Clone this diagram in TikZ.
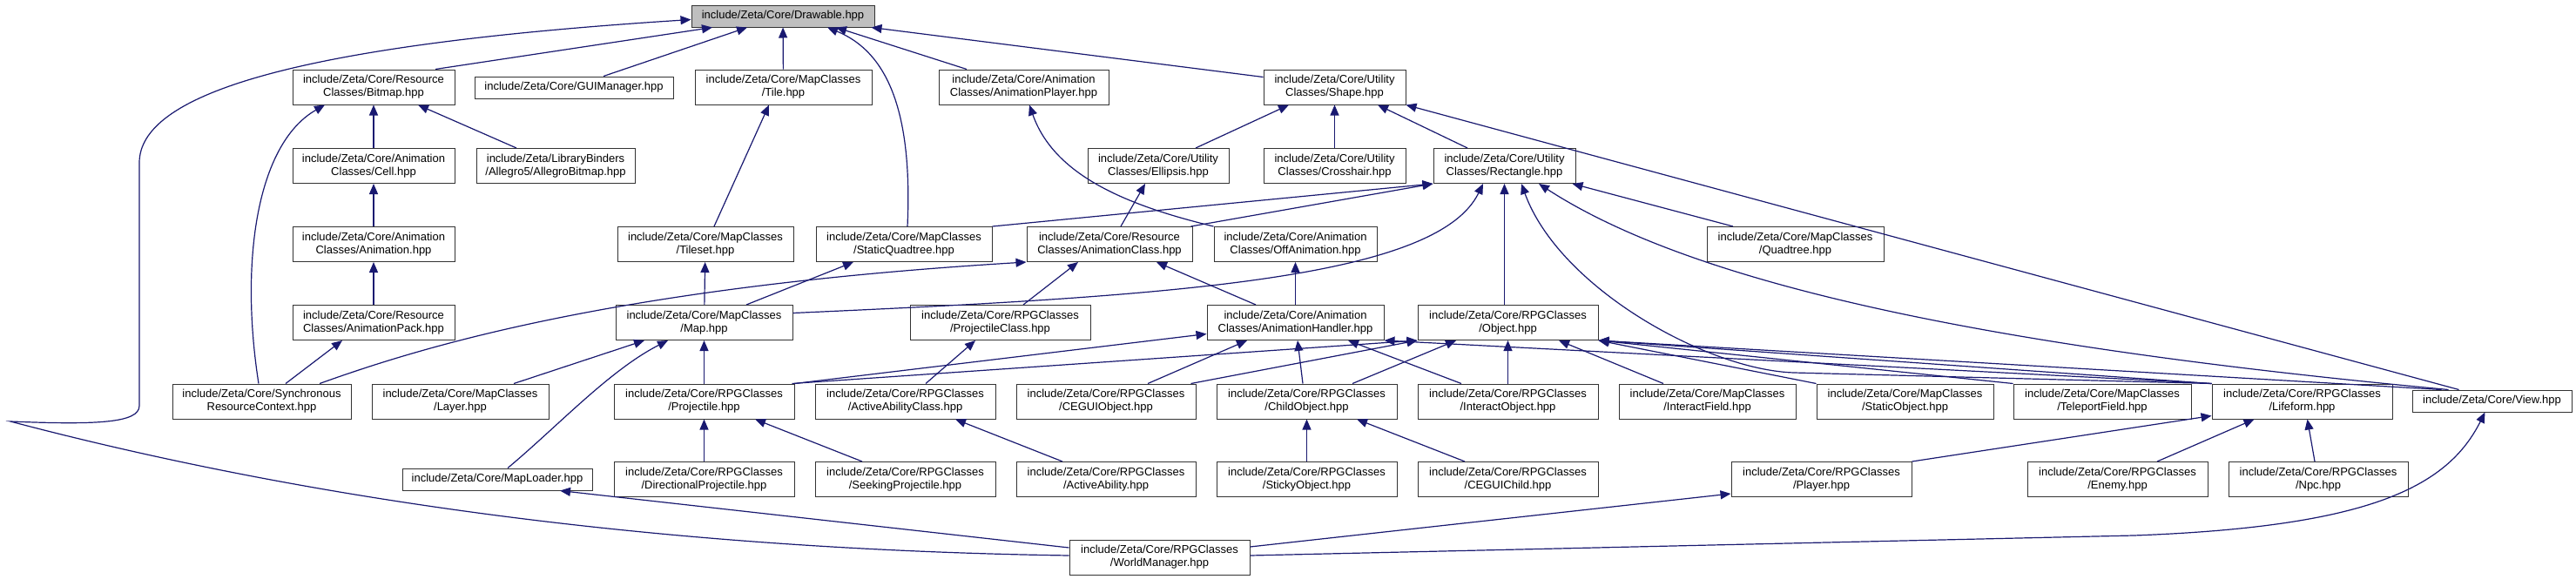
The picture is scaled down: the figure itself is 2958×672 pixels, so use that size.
\documentclass[tikz,border=0pt]{standalone}
\usepackage{fontspec}
\setmainfont{Liberation Sans}
\usepackage{tikz}
\usetikzlibrary{arrows.meta}
\definecolor{edgenavy}{RGB}{25,25,112}
\definecolor{rootgray}{RGB}{191,191,191}
\definecolor{boxgray}{RGB}{51,51,51}

\begin{document}
\begin{tikzpicture}[
    x=1pt, y=-1pt,
    filebox/.style={draw=boxgray, line width=1pt, fill=white, minimum height=40pt, inner sep=2pt, align=center, font=\fontsize{13}{15}\selectfont},
    dep/.style={->, draw=edgenavy, line width=1.2pt},
    >={Triangle[length=12pt, width=10pt]}
]
\path[use as bounding box, fill=white] (0,0) rectangle (2958,672);

\node[filebox, fill=rootgray, minimum width=210pt, minimum height=25pt] (drawable) at (899,18.5) {include/Zeta/Core/Drawable.hpp};

\node[filebox, minimum width=186pt] (bitmap) at (429,100) {include/Zeta/Core/Resource\\Classes/Bitmap.hpp};
\node[filebox, minimum width=228pt, minimum height=25pt] (guimanager) at (659,100.5) {include/Zeta/Core/GUIManager.hpp};
\node[filebox, minimum width=203pt] (tile) at (899.5,100) {include/Zeta/Core/MapClasses\\/Tile.hpp};
\node[filebox, minimum width=195pt] (animplayer) at (1175.5,100) {include/Zeta/Core/Animation\\Classes/AnimationPlayer.hpp};
\node[filebox, minimum width=163pt] (shape) at (1532.5,100) {include/Zeta/Core/Utility\\Classes/Shape.hpp};

\node[filebox, minimum width=186pt] (cell) at (429,190.5) {include/Zeta/Core/Animation\\Classes/Cell.hpp};
\node[filebox, minimum width=182pt] (allegro) at (638,190.5) {include/Zeta/LibraryBinders\\/Allegro5/AllegroBitmap.hpp};
\node[filebox, minimum width=162pt] (ellipsis) at (1330,190.5) {include/Zeta/Core/Utility\\Classes/Ellipsis.hpp};
\node[filebox, minimum width=163pt] (crosshair) at (1532.5,190.5) {include/Zeta/Core/Utility\\Classes/Crosshair.hpp};
\node[filebox, minimum width=163pt] (rectangle) at (1727.5,190.5) {include/Zeta/Core/Utility\\Classes/Rectangle.hpp};

\node[filebox, minimum width=186pt] (animation) at (429,280.5) {include/Zeta/Core/Animation\\Classes/Animation.hpp};
\node[filebox, minimum width=202pt] (tileset) at (810,280.5) {include/Zeta/Core/MapClasses\\/Tileset.hpp};
\node[filebox, minimum width=202pt] (staticquad) at (1038,280.5) {include/Zeta/Core/MapClasses\\/StaticQuadtree.hpp};
\node[filebox, minimum width=190pt] (animclass) at (1274,280.5) {include/Zeta/Core/Resource\\Classes/AnimationClass.hpp};
\node[filebox, minimum width=187pt] (offanim) at (1487.5,280.5) {include/Zeta/Core/Animation\\Classes/OffAnimation.hpp};
\node[filebox, minimum width=203pt] (quadtree) at (2061.5,280.5) {include/Zeta/Core/MapClasses\\/Quadtree.hpp};

\node[filebox, minimum width=186pt] (animpack) at (429,370.5) {include/Zeta/Core/Resource\\Classes/AnimationPack.hpp};
\node[filebox, minimum width=203pt] (map) at (808.5,370.5) {include/Zeta/Core/MapClasses\\/Map.hpp};
\node[filebox, minimum width=207pt] (projclass) at (1148.5,370.5) {include/Zeta/Core/RPGClasses\\/ProjectileClass.hpp};
\node[filebox, minimum width=203pt] (animhandler) at (1487.5,370.5) {include/Zeta/Core/Animation\\Classes/AnimationHandler.hpp};
\node[filebox, minimum width=207pt] (object) at (1731.5,370.5) {include/Zeta/Core/RPGClasses\\/Object.hpp};

\node[filebox, minimum width=205pt] (sync) at (300.5,461) {include/Zeta/Core/Synchronous\\ResourceContext.hpp};
\node[filebox, minimum width=203pt] (layer) at (528.5,461) {include/Zeta/Core/MapClasses\\/Layer.hpp};
\node[filebox, minimum width=207pt] (projectile) at (808.5,461) {include/Zeta/Core/RPGClasses\\/Projectile.hpp};
\node[filebox, minimum width=207pt] (abilityclass) at (1039.5,461) {include/Zeta/Core/RPGClasses\\/ActiveAbilityClass.hpp};
\node[filebox, minimum width=206pt] (ceguiobject) at (1270,461) {include/Zeta/Core/RPGClasses\\/CEGUIObject.hpp};
\node[filebox, minimum width=207pt] (childobject) at (1500.5,461) {include/Zeta/Core/RPGClasses\\/ChildObject.hpp};
\node[filebox, minimum width=207pt] (interactobject) at (1731.5,461) {include/Zeta/Core/RPGClasses\\/InteractObject.hpp};
\node[filebox, minimum width=203pt] (interactfield) at (1960.5,461) {include/Zeta/Core/MapClasses\\/InteractField.hpp};
\node[filebox, minimum width=203pt] (staticobject) at (2187.5,461) {include/Zeta/Core/MapClasses\\/StaticObject.hpp};
\node[filebox, minimum width=204pt] (teleportfield) at (2414,461) {include/Zeta/Core/MapClasses\\/TeleportField.hpp};
\node[filebox, minimum width=207pt] (lifeform) at (2643.5,461) {include/Zeta/Core/RPGClasses\\/Lifeform.hpp};
\node[filebox, minimum width=183pt, minimum height=25pt] (view) at (2861.5,460.5) {include/Zeta/Core/View.hpp};

\node[filebox, minimum width=218pt, minimum height=25pt] (maploader) at (571,550.5) {include/Zeta/Core/MapLoader.hpp};
\node[filebox, minimum width=207pt] (directional) at (808.5,550.5) {include/Zeta/Core/RPGClasses\\/DirectionalProjectile.hpp};
\node[filebox, minimum width=207pt] (seeking) at (1039.5,550.5) {include/Zeta/Core/RPGClasses\\/SeekingProjectile.hpp};
\node[filebox, minimum width=206pt] (ability) at (1270,550.5) {include/Zeta/Core/RPGClasses\\/ActiveAbility.hpp};
\node[filebox, minimum width=207pt] (sticky) at (1500.5,550.5) {include/Zeta/Core/RPGClasses\\/StickyObject.hpp};
\node[filebox, minimum width=207pt] (ceguichild) at (1731.5,550.5) {include/Zeta/Core/RPGClasses\\/CEGUIChild.hpp};
\node[filebox, minimum width=207pt] (player) at (2091.5,550.5) {include/Zeta/Core/RPGClasses\\/Player.hpp};
\node[filebox, minimum width=207pt] (enemy) at (2431.5,550.5) {include/Zeta/Core/RPGClasses\\/Enemy.hpp};
\node[filebox, minimum width=206pt] (npc) at (2662,550.5) {include/Zeta/Core/RPGClasses\\/Npc.hpp};

\node[filebox, minimum width=207pt] (worldmanager) at (1331.5,640) {include/Zeta/Core/RPGClasses\\/WorldManager.hpp};

% into Drawable
\draw[dep] ([yshift=2pt]worldmanager.west) .. controls (700,630) and (300,560) .. (12,484) .. controls (110,488) and (160,486) .. (160,466) -- (160,187) .. controls (160,110) and (330,52) .. ([yshift=-4pt]drawable.west);
\draw[dep] ([xshift=71pt]bitmap.north) -- ([xshift=-81pt]drawable.south);
\draw[dep] ([xshift=34pt]guimanager.north) -- ([xshift=-41pt]drawable.south);
\draw[dep] (tile) -- (drawable);
\draw[dep] ([xshift=4pt]staticquad.north) .. controls (1048,130) and (1020,60) .. ([xshift=51pt]drawable.south);
\draw[dep] ([xshift=-65.5pt]animplayer.north) -- ([xshift=61pt]drawable.south);
\draw[dep] ([yshift=-9pt]shape.north west) -- ([xshift=-4pt]drawable.south east);

% resource and animation chain
\draw[dep] ([xshift=-3.5pt]sync.north) .. controls (275,300) and (295,165) .. ([xshift=-56pt]bitmap.south);
\draw[dep] (cell) -- (bitmap);
\draw[dep] ([xshift=-45pt]allegro.north) -- ([xshift=51pt]bitmap.south);
\draw[dep] (animation) -- (cell);
\draw[dep] (animpack) -- (animation);
\draw[dep] ([xshift=27.5pt]sync.north) -- ([xshift=-36pt]animpack.south);
\draw[dep] ([xshift=66.5pt]sync.north) .. controls (480,400) and (700,330) .. (animclass.south west);

% map classes
\draw[dep] ([xshift=10pt]tileset.north) -- ([xshift=-16.5pt]tile.south);
\draw[dep] (map) -- (tileset);
\draw[dep] ([xshift=48.5pt]map.north) -- ([xshift=-58pt]staticquad.south);
\draw[dep] ([yshift=11pt]map.east) .. controls (1350,340) and (1650,320) .. ([xshift=-24.5pt]rectangle.south);
\draw[dep] ([xshift=61.5pt]layer.north) -- ([xshift=-68.5pt]map.south);
\draw[dep] ([xshift=12pt]maploader.north) .. controls (640,490) and (700,425) .. ([xshift=-41.5pt]map.south);
\draw[dep] (projectile) -- (map);
\draw[dep] (directional) -- (projectile);
\draw[dep] ([xshift=-49.5pt]seeking.north) -- ([xshift=58.5pt]projectile.south);
\draw[dep] ([xshift=-50pt]ability.north) -- ([xshift=57.5pt]abilityclass.south);
\draw[dep] ([xshift=23.5pt]abilityclass.north) -- ([xshift=-28.5pt]projclass.south);
\draw[dep] ([xshift=26.5pt]projclass.north) -- ([xshift=-36pt]animclass.south);
\draw[dep] ([xshift=-45.5pt]animhandler.north) -- ([xshift=54pt]animclass.south);
\draw[dep] ([xshift=13pt]animclass.north) -- ([xshift=-15pt]ellipsis.south);
\draw[dep] (offanim.north west) .. controls (1290,235) and (1210,200) .. ([xshift=6.5pt]animplayer.south);
\draw[dep] (animhandler) -- (offanim);

% shapes
\draw[dep] ([xshift=43pt]ellipsis.north) -- ([xshift=-52.5pt]shape.south);
\draw[dep] (crosshair) -- (shape);
\draw[dep] ([xshift=-42.5pt]rectangle.north) -- ([xshift=49.5pt]shape.south);
\draw[dep] ([xshift=-38pt]view.north) -- (shape.south east);
\draw[dep] (staticquad.north east) -- (rectangle.south west);
\draw[dep] ([xshift=-2pt]animclass.north east) -- (rectangle.south west);
\draw[dep] ([xshift=-4pt]object.north) -- (rectangle.south);
\draw[dep] (lifeform.north west) -- (2060,428) .. controls (1960,425) and (1790,330) .. ([xshift=19.5pt]rectangle.south);
\draw[dep] ([xshift=-50pt]view.north) .. controls (2300,400) and (1950,330) .. ([xshift=39.5pt]rectangle.south);
\draw[dep] ([xshift=-71.5pt]quadtree.north) -- ([xshift=-4pt]rectangle.south east);

% handler and object
\draw[dep] (projectile.north east) -- ([yshift=-13pt]animhandler.west);
\draw[dep] ([xshift=-3pt]projectile.north east) -- (object.south west);
\draw[dep] ([xshift=48pt]ceguiobject.north) -- ([xshift=-55.5pt]animhandler.south);
\draw[dep] ([xshift=-6pt]ceguiobject.north east) -- (object.south west);
\draw[dep] ([xshift=-4.5pt]childobject.north) -- ([xshift=2.5pt]animhandler.south);
\draw[dep] ([xshift=52.5pt]childobject.north) -- ([xshift=-59.5pt]object.south);
\draw[dep] ([xshift=-53.5pt]interactobject.north) -- ([xshift=60.5pt]animhandler.south);
\draw[dep] (interactobject) -- (object);
\draw[dep] ([xshift=-50.5pt]interactfield.north) -- ([xshift=58.5pt]object.south);
\draw[dep] (staticobject.north west) -- (object.south east);
\draw[dep] (teleportfield.north west) -- (object.south east);
\draw[dep] (lifeform.north west) -- (object.south east);
\draw[dep] ([xshift=-58pt]view.north) -- (object.south east);
\draw[dep] (lifeform.north west) -- (animhandler.south east);
\draw[dep] (sticky) -- (childobject);
\draw[dep] ([xshift=-49.5pt]ceguichild.north) -- ([xshift=57.5pt]childobject.south);

% lifeform and world manager
\draw[dep] (player.north east) -- ([yshift=4pt]lifeform.south west);
\draw[dep] ([xshift=45.5pt]enemy.north) -- ([xshift=-55pt]lifeform.south);
\draw[dep] ([xshift=-4pt]npc.north) -- ([xshift=6pt]lifeform.south);
\draw[dep] ([yshift=12pt]worldmanager.east) -- ([yshift=4pt]player.south west);
\draw[dep] ([yshift=2pt]worldmanager.east) -- (2450,615) .. controls (2720,605) and (2810,560) .. ([xshift=-8pt]view.south);
\draw[dep] ([yshift=11pt]worldmanager.west) -- ([xshift=72pt]maploader.south);

\end{tikzpicture}
\end{document}
